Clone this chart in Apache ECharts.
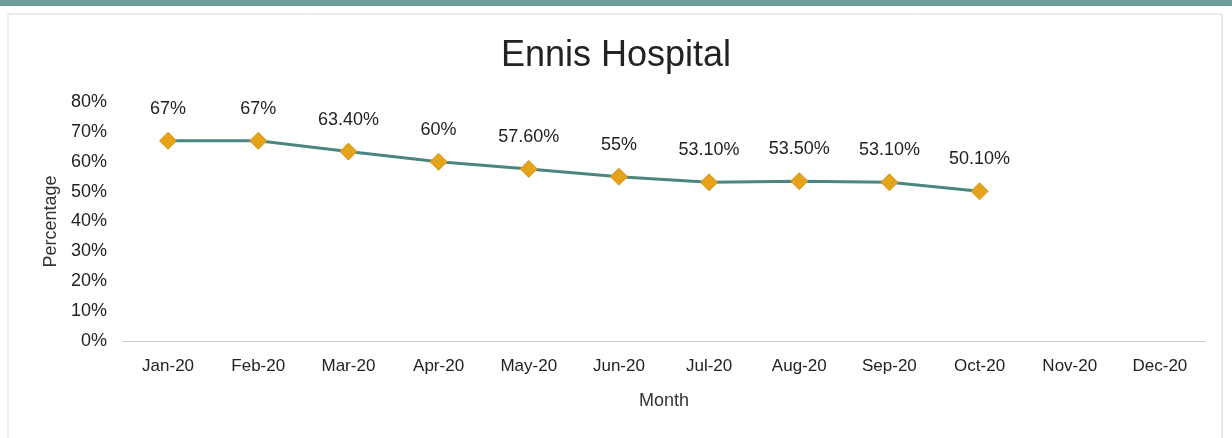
<!DOCTYPE html>
<html lang="en">
<head>
	<meta charset="UTF-8">
	<title>Ennis Hospital</title>
	<style>
		html, body { margin: 0; padding: 0; background: #fff; }
		#container { width: 1232px; height: 438px; }
	</style>
</head>
<body>
	<div id="container"></div>
	<script src="https://cdn.jsdelivr.net/npm/echarts@6/dist/echarts.min.js"></script>
	<script>
		var months = ['Jan-20', 'Feb-20', 'Mar-20', 'Apr-20', 'May-20', 'Jun-20', 'Jul-20', 'Aug-20', 'Sep-20', 'Oct-20', 'Nov-20', 'Dec-20'];
		var percentages = [67, 67, 63.4, 60, 57.6, 55, 53.1, 53.5, 53.1, 50.1, null, null];
		var yTicks = [0, 10, 20, 30, 40, 50, 60, 70, 80];

		var font = "'Liberation Sans', Arial, sans-serif";
		var myChart = echarts.init(document.getElementById('container'));

		var option = {
			backgroundColor: '#fff',
			textStyle: { fontFamily: font },
			title: {
				text: 'Ennis Hospital',
				left: 'center',
				top: 33,
				textStyle: { fontSize: 36, fontWeight: 'normal', color: '#222', fontFamily: font }
			},
			graphic: [{
				type: 'rect',
				shape: { x: 8, y: 14, width: 1214, height: 430 },
				style: { fill: 'none', stroke: '#d8d8d8', lineWidth: 1 }
			}, {
				type: 'rect',
				shape: { x: 0, y: 0, width: 1232, height: 6 },
				style: { fill: '#6f9e9a' }
			}],
			grid: { left: 123, right: 27, top: 102, bottom: 97 },
			xAxis: {
				type: 'category',
				data: months,
				boundaryGap: true,
				name: 'Month',
				nameLocation: 'middle',
				nameGap: 51,
				nameTextStyle: { fontSize: 18, color: '#333' },
				axisLine: { lineStyle: { color: '#c8c8c8', width: 1 } },
				axisTick: { show: false },
				axisLabel: { fontSize: 17, color: '#222', margin: 17 }
			},
			yAxis: {
				type: 'value',
				min: yTicks[0],
				max: yTicks[yTicks.length - 1],
				interval: 10,
				name: 'Percentage',
				nameLocation: 'middle',
				nameRotate: 90,
				nameGap: 62,
				nameTextStyle: { fontSize: 18, color: '#333' },
				axisLine: { show: false },
				axisTick: { show: false },
				splitLine: { show: false },
				axisLabel: { fontSize: 18, color: '#222', margin: 16, formatter: '{value}%' }
			},
			series: [{
				type: 'line',
				data: percentages,
				symbol: 'diamond',
				symbolSize: 17,
				itemStyle: { color: '#e5a21b', borderColor: '#d9951a', borderWidth: 1 },
				lineStyle: { color: '#4a8582', width: 3 },
				label: {
					show: true,
					position: 'top',
					distance: 14,
					fontSize: 18,
					color: '#222',
					formatter: function (p) {
						var v = p.value;
						return (v % 1 === 0 ? v : v.toFixed(2)) + '%';
					}
				}
			}]
		};

		myChart.setOption(option);
	</script>
</body>
</html>
